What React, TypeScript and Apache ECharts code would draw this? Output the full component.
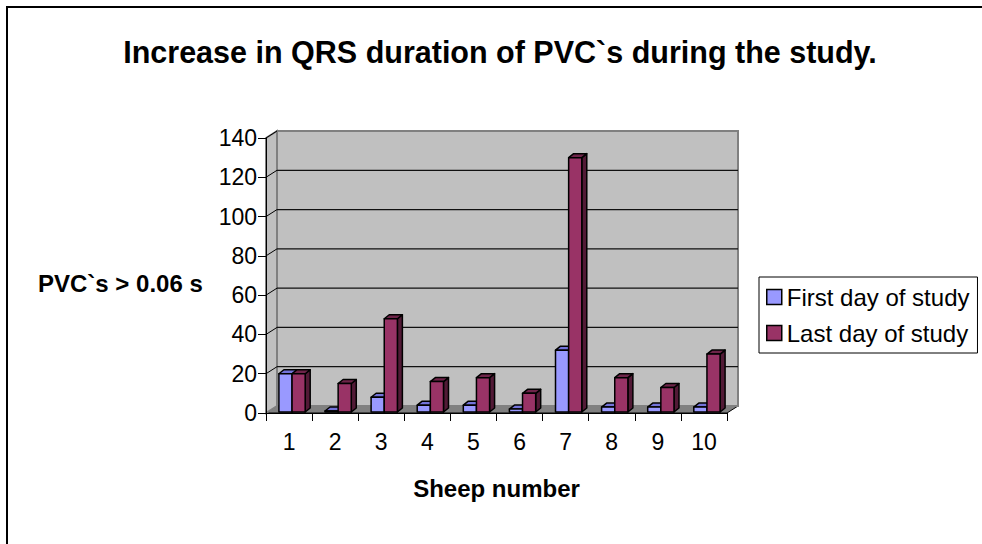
import React, { useEffect, useRef } from "react";
import * as echarts from "echarts";

const categories = ["1", "2", "3", "4", "5", "6", "7", "8", "9", "10"];
const firstDay = [20, 1, 8, 4, 4, 2, 32, 3, 3, 3];
const lastDay = [20, 15, 48, 16, 18, 10, 130, 18, 13, 30];
const yTicks = [0, 20, 40, 60, 80, 100, 120, 140];
const seriesNames = ["First day of study", "Last day of study"];

const FONT = "'Liberation Sans', Arial, Helvetica, sans-serif";
const DEPTH_X = 11;
const DEPTH_Y = -7;

const palettes = [
  { front: "#9999FF", top: "#7373D9", side: "#5C5CB3" },
  { front: "#993366", top: "#6E2449", side: "#521A36" },
];

function barRenderer(seriesIdx: number) {
  const pal = palettes[seriesIdx];
  return (params: any, api: any) => {
    const i = api.value(0);
    const v = api.value(1);
    const base = api.coord([i, 0]);
    const top = api.coord([i, v]);
    const bw = api.size([1, 0])[0];
    const w = bw * 0.285;
    const x0 = base[0] - bw * 0.22 + seriesIdx * w;
    const x1 = x0 + w;
    const yb = base[1] - 1;
    const yt = Math.min(top[1], yb - 0.5);
    const dx = 5;
    const dy = -4;
    const st = { stroke: "#000", lineWidth: 1.5, lineJoin: "round" };
    return {
      type: "group",
      children: [
        {
          type: "polygon",
          shape: { points: [[x1, yt], [x1 + dx, yt + dy], [x1 + dx, yb + dy], [x1, yb]] },
          style: { fill: pal.side, ...st },
        },
        {
          type: "polygon",
          shape: { points: [[x0, yt], [x0 + dx, yt + dy], [x1 + dx, yt + dy], [x1, yt]] },
          style: { fill: pal.top, ...st },
        },
        {
          type: "rect",
          shape: { x: x0, y: yt, width: w, height: yb - yt },
          style: { fill: pal.front, ...st },
        },
      ],
    };
  };
}

function wallRenderer(params: any, api: any) {
  const cs = params.coordSys;
  const x = cs.x;
  const y = cs.y;
  const w = cs.width;
  const h = cs.height;
  const yBottom = y + h;
  const children: any[] = [];
  children.push({
    type: "polygon",
    shape: {
      points: [
        [x, yBottom],
        [x + DEPTH_X, yBottom + DEPTH_Y],
        [x + w + DEPTH_X, yBottom + DEPTH_Y],
        [x + w, yBottom],
      ],
    },
    style: { fill: "#808080", stroke: "#000", lineWidth: 1 },
  });
  children.push({
    type: "polygon",
    shape: {
      points: [
        [x, y],
        [x + DEPTH_X, y + DEPTH_Y],
        [x + DEPTH_X, yBottom + DEPTH_Y],
        [x, yBottom],
      ],
    },
    style: { fill: "#C0C0C0", stroke: "#808080", lineWidth: 2 },
  });
  children.push({
    type: "rect",
    shape: { x: x + DEPTH_X, y: y + DEPTH_Y, width: w, height: h },
    style: { fill: "#C0C0C0", stroke: "#808080", lineWidth: 2 },
  });
  yTicks.forEach((v) => {
    const yy = api.coord([0, v])[1];
    if (v > 0 && v < yTicks[yTicks.length - 1]) {
      children.push({
        type: "line",
        shape: { x1: x + DEPTH_X, y1: yy + DEPTH_Y, x2: x + w + DEPTH_X, y2: yy + DEPTH_Y },
        style: { stroke: "#111", lineWidth: 1.2 },
      });
    }
    if (v > 0) {
      children.push({
        type: "line",
        shape: { x1: x, y1: yy, x2: x + DEPTH_X, y2: yy + DEPTH_Y },
        style: { stroke: "#000", lineWidth: 1 },
      });
    }
  });
  return { type: "group", children };
}

export default function App() {
  const ref = useRef<HTMLDivElement>(null);
  useEffect(() => {
    if (!ref.current) return;
    const chart = echarts.init(ref.current, undefined, { renderer: "svg" });
    chart.setOption({
      animation: false,
      backgroundColor: "#ffffff",
      textStyle: { fontFamily: FONT },
      title: [
        {
          text: "Increase in QRS duration of PVC`s during the study.",
          left: 495,
          top: 31,
          textAlign: "center",
          textStyle: { fontFamily: FONT, fontSize: 30.5, fontWeight: "bold", color: "#000" },
        },
        {
          text: "PVC`s > 0.06 s",
          left: 33,
          top: 266,
          textStyle: { fontFamily: FONT, fontSize: 24, fontWeight: "bold", color: "#000" },
        },
      ],
      graphic: [
        {
          type: "polyline",
          shape: { points: [[7, 560], [7, 7], [990, 7]] },
          style: { fill: "none", stroke: "#000", lineWidth: 2 },
          silent: true,
        },
      ],
      legend: {
        orient: "vertical",
        left: 759,
        top: 277,
        borderColor: "#000",
        borderWidth: 1,
        padding: [8, 8, 8, 7],
        itemGap: 12,
        itemWidth: 15,
        itemHeight: 15,
        icon: "rect",
        textStyle: { fontFamily: FONT, fontSize: 24, color: "#000" },
        data: [
          { name: seriesNames[0], itemStyle: { color: palettes[0].front, borderColor: "#000", borderWidth: 1.5 } },
          { name: seriesNames[1], itemStyle: { color: palettes[1].front, borderColor: "#000", borderWidth: 1.5 } },
        ],
      },
      grid: { left: 266, top: 138, width: 461, height: 275, containLabel: false },
      xAxis: {
        type: "category",
        data: categories,
        z: 5,
        name: "Sheep number",
        nameLocation: "middle",
        nameGap: 63,
        nameTextStyle: { fontFamily: FONT, fontSize: 24, fontWeight: "bold", color: "#000" },
        axisLine: { show: true, lineStyle: { color: "#000", width: 1 } },
        axisTick: { show: true, length: 8, lineStyle: { color: "#000" } },
        axisLabel: { fontFamily: FONT, fontSize: 23, color: "#000", margin: 17 },
        splitLine: { show: false },
      },
      yAxis: {
        type: "value",
        min: 0,
        max: 140,
        interval: 20,
        z: 5,
        axisLine: { show: true, lineStyle: { color: "#000", width: 1 } },
        axisTick: { show: true, length: 8, lineStyle: { color: "#000" } },
        axisLabel: { fontFamily: FONT, fontSize: 23, color: "#000", margin: 9 },
        splitLine: { show: false },
      },
      series: [
        {
          type: "custom",
          name: "walls",
          z: 1,
          silent: true,
          renderItem: wallRenderer,
          data: [[0, 0]],
          encode: { x: 0, y: 1 },
        },
        {
          type: "custom",
          name: seriesNames[0],
          z: 2,
          itemStyle: { color: palettes[0].front },
          renderItem: barRenderer(0),
          data: categories.map((c, i) => [i, firstDay[i]]),
          encode: { x: 0, y: 1 },
        },
        {
          type: "custom",
          name: seriesNames[1],
          z: 3,
          itemStyle: { color: palettes[1].front },
          renderItem: barRenderer(1),
          data: categories.map((c, i) => [i, lastDay[i]]),
          encode: { x: 0, y: 1 },
        },
      ],
    });
    return () => chart.dispose();
  }, []);
  return (
    <div
      ref={ref}
      style={{ position: "fixed", left: 0, top: 0, width: 982, height: 544, background: "#fff" }}
    />
  );
}
